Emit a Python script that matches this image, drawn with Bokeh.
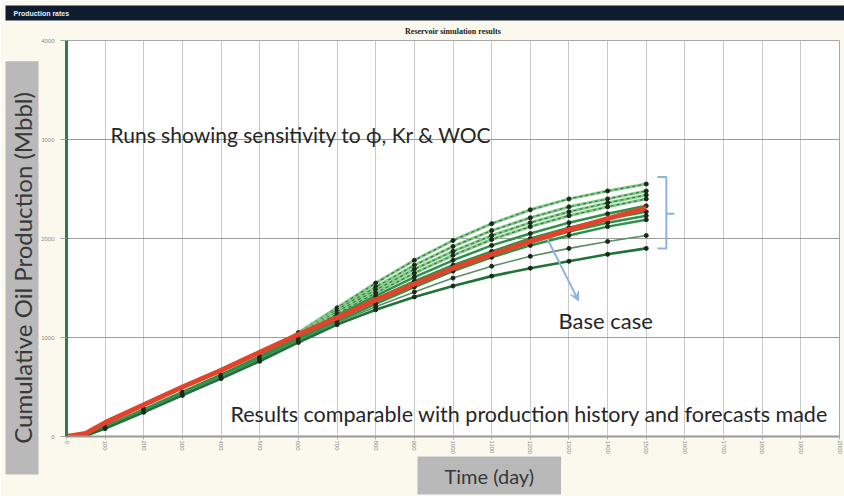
import math
from bokeh.plotting import figure
from bokeh.models import (FixedTicker, Label, Arrow, VeeHead, Range1d, Title)
from bokeh.embed import file_html
from bokeh.resources import INLINE

# ---------------- data ----------------
days = [0, 50, 100, 200, 300, 400, 500, 600, 700, 800, 900, 1000, 1100, 1200, 1300, 1400, 1500]
base_case = [0, 30, 140, 320, 500, 670, 850, 1030, 1200, 1380, 1540, 1700, 1840, 1970, 2090, 2200, 2310]
run_1 = [0, 10, 90, 260, 430, 610, 800, 1050, 1300, 1550, 1780, 1980, 2150, 2290, 2400, 2480, 2550]
run_2 = [0, 10, 100, 270, 440, 615, 800, 1040, 1280, 1510, 1730, 1920, 2080, 2210, 2320, 2400, 2480]
run_3 = [0, 10, 95, 265, 440, 615, 800, 1030, 1260, 1480, 1690, 1870, 2030, 2160, 2270, 2360, 2440]
run_4 = [0, 10, 90, 260, 435, 610, 795, 1020, 1240, 1450, 1650, 1830, 1990, 2120, 2230, 2320, 2400]
run_5 = [0, 10, 100, 275, 450, 625, 810, 1010, 1220, 1420, 1610, 1780, 1930, 2050, 2160, 2250, 2330]
run_6 = [0, 10, 95, 270, 445, 620, 805, 1000, 1200, 1390, 1570, 1730, 1870, 2000, 2110, 2200, 2270]
run_7 = [0, 10, 90, 262, 438, 612, 795, 990, 1180, 1370, 1540, 1700, 1840, 1960, 2070, 2160, 2230]
run_8 = [0, 10, 85, 255, 430, 605, 785, 975, 1160, 1340, 1510, 1670, 1810, 1930, 2030, 2120, 2190]
run_9 = [0, 10, 90, 260, 430, 600, 775, 965, 1150, 1310, 1460, 1600, 1720, 1820, 1900, 1970, 2030]
run_10 = [0, 10, 80, 245, 415, 585, 760, 950, 1130, 1280, 1410, 1520, 1620, 1700, 1770, 1840, 1900]

dashed_runs = [run_1, run_2, run_3, run_4]
solid_runs = [run_5, run_6, run_7, run_8]

x_ticks = list(range(0, 2001, 100))
y_ticks = [0, 1000, 2000, 3000, 4000]

title_text = "Reservoir simulation results"
window_text = "Production rates"
y_label = "Cumulative Oil Production (Mbbl)"
x_label = "Time (day)"
note_top = "Runs showing sensitivity to \u03d5, Kr & WOC"
note_base = "Base case"
note_bottom = "Results comparable with production history and forecasts made"

W, H = 844, 496
FONT = "Lato"
NB = "\u00a0" * 5

p = figure(width=W, height=H, output_backend="svg", toolbar_location=None,
           x_range=Range1d(0, 2000), y_range=Range1d(0, 4000),
           min_border_left=66, min_border_right=5, min_border_top=40, min_border_bottom=59)
p.border_fill_color = "#fbf9ee"
p.background_fill_color = "white"
p.outline_line_color = "#a8a8a8"

# window bar (outermost element above)
p.title = Title(text=window_text, text_font="Liberation Sans", text_font_size="7px",
                text_font_style="bold", text_color="#e8eef5", background_fill_color="#0e1c2f",
                padding=(8, 790, 4, 4), offset=-61, align="left", standoff=0)
# chart title, nearer to the frame
p.add_layout(Title(text=title_text, text_font="Liberation Sans Narrow", text_font_size="8px",
                   text_font_style="bold", text_color="#1a1a1a", align="center", standoff=9), "above")

# axis title boxes
p.add_layout(Title(text=NB + y_label + NB, text_font=FONT, text_font_size="24px", text_font_style="normal",
                   text_color="#383838", background_fill_color="#b9b9b9", text_line_height=1.0,
                   padding=(0, 0, 2, 2), align="left", offset=-38, standoff=0), "left")
p.add_layout(Title(text=x_label, text_font=FONT, text_font_size="20px", text_font_style="normal",
                   text_color="#383838", background_fill_color="#b9b9b9",
                   padding=(27, 27, 7, 7), align="left", offset=351, standoff=0,
                   vertical_align="top"), "below")

# axes
p.xaxis.ticker = FixedTicker(ticks=x_ticks)
p.xaxis.major_label_orientation = "vertical"
p.xaxis.major_label_text_font_size = "6px"
p.xaxis.major_label_text_color = "#8a8a8a"
p.xaxis.axis_line_color = "#9a9a9a"
p.xaxis.axis_line_width = 2
p.xaxis.major_tick_line_color = "#b0b0b0"
p.xaxis.major_tick_in = 0
p.xaxis.major_tick_out = 3
p.xaxis.minor_tick_line_color = None
p.xaxis.major_label_standoff = 1

p.yaxis.ticker = FixedTicker(ticks=y_ticks)
p.yaxis.major_label_text_font_size = "6px"
p.yaxis.major_label_text_color = "#8a8a8a"
p.yaxis.axis_line_color = "#2b7d49"
p.yaxis.axis_line_width = 3
p.yaxis.major_tick_line_color = "#a0a0a0"
p.yaxis.major_tick_in = 0
p.yaxis.major_tick_out = 6
p.yaxis.minor_tick_line_color = None
p.yaxis.major_label_standoff = 6

p.xgrid.grid_line_color = "#c9c9c9"
p.ygrid.grid_line_color = "#9c9c9c"

# series
for r in dashed_runs:
    p.line(days, r, line_color="#86c98a", line_width=3)
    p.line(days, r, line_color="#2e7d40", line_width=1.2, line_dash="3 3")
    p.scatter(days[2:], r[2:], size=4, color="#1a2a1a")
for r in solid_runs:
    p.line(days, r, line_color="#2f9149", line_width=2.5)
    p.scatter(days[2:], r[2:], size=4, color="#1a2a1a")
p.line(days, run_9, line_color="#5d8c66", line_width=1.6)
p.scatter(days[2:], run_9[2:], size=4, color="#1a2a1a")
p.line(days, run_10, line_color="#1f7336", line_width=2.6)
p.scatter(days[2:], run_10[2:], size=4, color="#1a2a1a")
p.line(days, base_case, line_color="#e4432b", line_width=5)

# arrow and bracket
blue = "#8db3df"
p.add_layout(Arrow(end=VeeHead(size=9, line_color=blue, fill_color=blue),
                   x_start=1245, y_start=1990, x_end=1325, y_end=1370,
                   line_color=blue, line_width=2))
p.line([1529, 1552, 1552, 1529], [2620, 2620, 1900, 1900], line_color=blue, line_width=2)
p.line([1552, 1573], [2250, 2250], line_color=blue, line_width=2)


def label(x, y, text, size, color="#262626"):
    p.add_layout(Label(x=x, y=y, x_units="canvas", y_units="canvas", text=text,
                       text_font=FONT, text_font_size=size, text_color=color,
                       text_align="left", text_baseline="middle"))


label(110, 134, note_top, "21px")
label(558, 320, note_base, "22px")
label(230, 413, note_bottom, "21.5px")

open("out.html", "w").write(file_html(p, INLINE))
